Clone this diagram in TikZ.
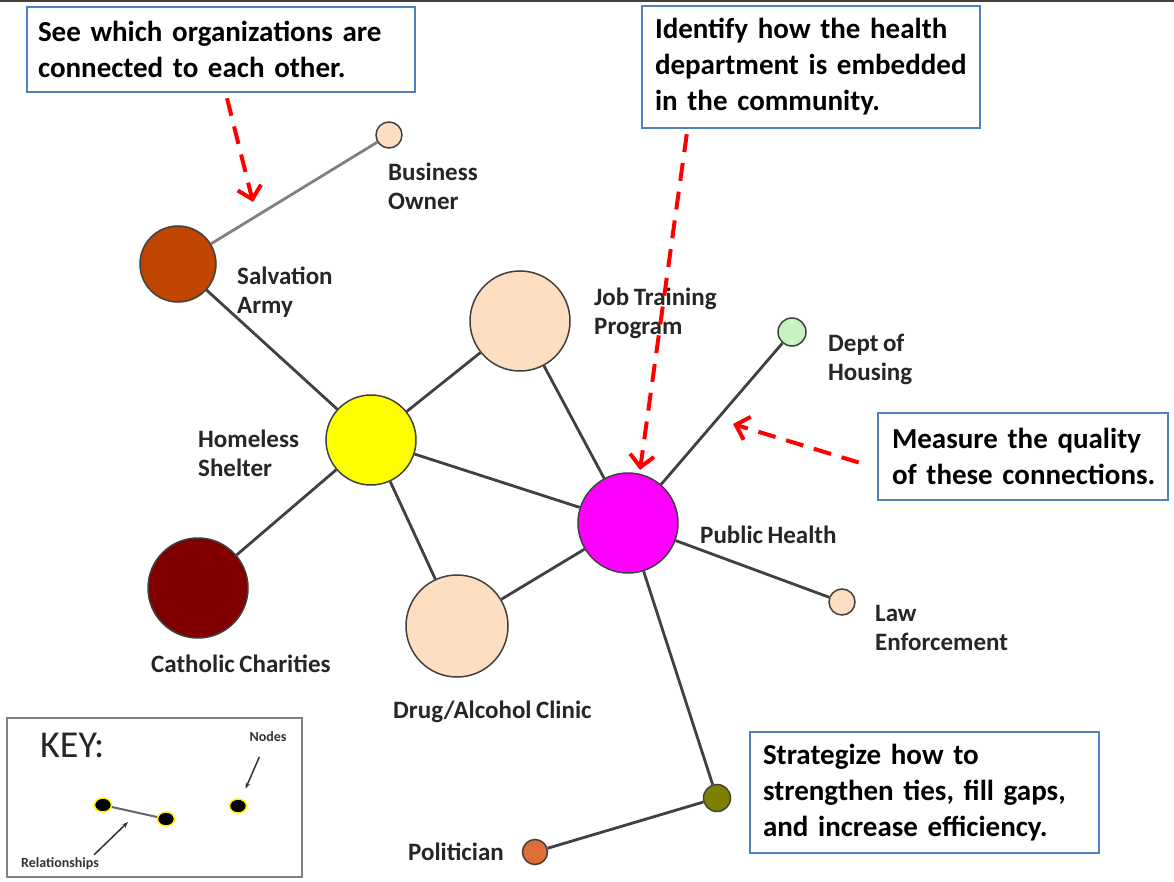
\documentclass[tikz,border=0pt]{standalone}
\usepackage{fontspec}
\setmainfont{Carlito}[WordSpace=0.8]
\usetikzlibrary{arrows.meta,positioning,shapes.geometric}

\definecolor{peach}{RGB}{253,222,192}
\definecolor{rust}{RGB}{192,70,0}
\definecolor{darkmaroon}{RGB}{128,0,0}
\definecolor{mint}{RGB}{198,242,192}
\definecolor{olivegreen}{RGB}{128,128,0}
\definecolor{tangerine}{RGB}{222,110,55}
\definecolor{boxblue}{RGB}{79,129,189}
\definecolor{edgegray}{RGB}{64,64,64}
\definecolor{hotmagenta}{RGB}{255,0,255}
\definecolor{lemon}{RGB}{255,255,0}

\newcommand\calloutfont{\fontsize{29}{36}\selectfont\bfseries\hyphenpenalty=10000\relax}

\tikzset{
  org/.style={circle, draw=edgegray, line width=1.5pt, inner sep=0pt, minimum size=#1},
  orglabel/.style={font=\fontsize{25}{29}\selectfont\bfseries, text=black!85, align=left, inner sep=0pt, anchor=west},
  tie/.style={draw=edgegray, line width=2.8pt},
  callout/.style={draw=boxblue, line width=2.5pt, fill=white, inner ysep=0pt, align=left, font=\calloutfont},
  hint/.style={draw=red, line width=4pt, dash pattern=on 18pt off 11pt, -{Straight Barb[length=12pt,width=24pt]}},
  keydot/.style={ellipse, draw=yellow, fill=black, line width=1.5pt, minimum width=17pt, minimum height=14pt, inner sep=0pt},
  keynote/.style={font=\fontsize{14}{16}\selectfont\bfseries, text=black!80, inner sep=0pt}
}

\begin{document}
\begin{tikzpicture}[x=1pt, y=-1pt]
    \useasboundingbox[fill=white] (0,0) rectangle (1174,882);
    \draw[line width=3pt, black!75] (0,1) -- (1174,1);

    % Organisations
    \node[org=26pt, fill=peach] (bo) at (389,135) {};
    \node[org=76pt, fill=rust] (sa) at (178,264) {};
    \node[org=100pt, fill=peach] (jt) at (520,321) {};
    \node[org=28pt, fill=mint] (dh) at (792,332) {};
    \node[org=90pt, fill=lemon] (hs) at (371,440) {};
    \node[org=100pt, fill=hotmagenta] (ph) at (628,523) {};
    \node[org=100pt, fill=darkmaroon] (cc) at (198,588) {};
    \node[org=102pt, fill=peach] (dac) at (457,626) {};
    \node[org=26pt, fill=peach] (le) at (842,602) {};
    \node[org=27pt, fill=olivegreen] (ol) at (717,798) {};
    \node[org=25pt, fill=tangerine] (pol) at (535,852) {};

    % Labels
    \node[orglabel] (bol) at (388,186) {Business\\Owner};
    \node[orglabel] (sal) at (237,292) {Salvation\\Army};
    \node[orglabel] (jtl) at (594,313) {Job Training\\Program};
    \node[orglabel] (dhl) at (828,359) {Dept of\\Housing};
    \node[orglabel] (hsl) at (198,453) {Homeless\\Shelter};
    \node[orglabel] (phl) at (700,535) {Public Health};
    \node[orglabel] (ccl) at (151,664) {Catholic Charities};
    \node[orglabel] (dacl) at (393,712) {Drug/Alcohol Clinic};
    \node[orglabel] (lel) at (875,628) {Law\\Enforcement};
    \node[orglabel] (poll) at (408,852) {Politician};

    % Ties
    \draw[tie, draw=gray] (bo) -- (sa);
    \foreach \a/\b in {sa/hs, hs/jt, hs/cc, hs/dac, hs/ph, jt/ph, dac/ph, ph/dh, ph/le, ph/ol, ol/pol}
        \draw[tie] (\a) -- (\b);

    % Callouts
    \node[callout, text width=366pt, inner xsep=11pt, minimum height=85pt] (see) at (221,49.5) {See which organizations are\\connected to each other.};
    \node[callout, text width=320pt, inner xsep=9pt, minimum height=122pt] (ident) at (811,67) {\hspace*{4pt}Identify how the health\\\hspace*{4pt}department is embedded\\\hspace*{4pt}in the community.};
    \node[callout, text width=274pt, inner xsep=8pt, minimum height=87pt] (meas) at (1023,456.5) {\hspace*{6pt}Measure the quality\\\hspace*{6pt}of these connections.};
    \node[callout, text width=323pt, inner xsep=13pt, minimum height=121pt] (strat) at (924.5,792.5) {Strategize how to\\strengthen ties, fill gaps,\\and increase efficiency.};

    \coordinate (seetip) at (253,202);
    \coordinate (identtip) at (640,470);
    \coordinate (meastip) at (733,424);
    \draw[hint] ([xshift=6pt,yshift=-5pt]see.south) -- (seetip);
    \draw[hint] ([xshift=46pt,yshift=-5pt]ident.south west) -- (identtip);
    \draw[hint] ([xshift=-18pt,yshift=-6pt]meas.west) -- (meastip);

    % Key
    \node[draw=gray, line width=1.5pt, minimum width=295pt, minimum height=159pt, inner sep=0pt] (key) at (154.5,797.5) {};
    \node[font=\fontsize{38}{44}\selectfont, text=black!85, anchor=west, inner sep=0pt] (keyt) at (40,745) {KEY:};
    \node[keydot] (ka) at (103,805) {};
    \node[keydot] (kb) at (166,819) {};
    \node[keydot] (kc) at (238,806) {};
    \draw[line width=2pt, gray!80!black] (ka) -- (kb);
    \node[keynote] (nodest) at (268,737) {Nodes};
    \node[keynote] (relt) at (60,864) {Relationships};
    \coordinate (reltip) at (128,822);
    \draw[line width=1.5pt, black!80, shorten <=16pt, shorten >=11pt, -{Stealth[length=6pt]}] (nodest) -- (kc);
    \draw[line width=1.5pt, black!80, -{Stealth[length=6pt]}] ([xshift=-5pt,yshift=3pt]relt.north east) -- (reltip);
\end{tikzpicture}
\end{document}
